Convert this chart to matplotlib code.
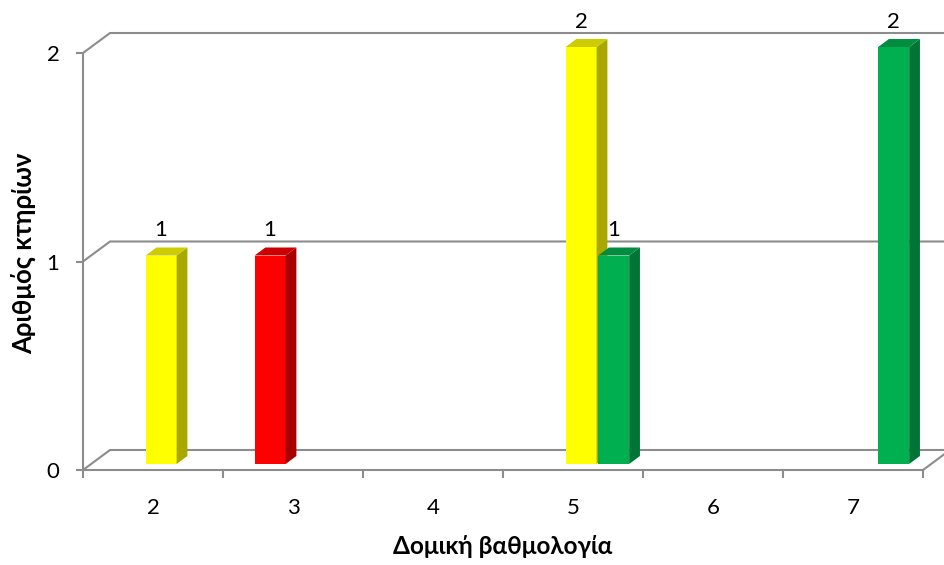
import matplotlib
matplotlib.use("Agg")
import matplotlib.pyplot as plt
from matplotlib.patches import Polygon
import numpy as np

plt.rcParams['font.family'] = ['Lato', 'DejaVu Sans']

# Data
categories = ["2", "3", "4", "5", "6", "7"]
series_names = ["Κόκκινο", "Κίτρινο", "Πράσινο"]
red_values = [0, 1, 0, 0, 0, 0]
yellow_values = [1, 0, 0, 2, 0, 0]
green_values = [0, 0, 0, 1, 0, 2]
y_ticks = [0, 1, 2]
x_title = "Δομική βαθμολογία"
y_title = "Αριθμός κτηρίων"

series = [
    (red_values, "#FF0000"),
    (yellow_values, "#FFFF00"),
    (green_values, "#00B050"),
]

W, H = 945, 565
fig = plt.figure(figsize=(W / 100, H / 100), dpi=100)

# front plane of the plot area (pixels)
left_px, right_px, bot_px, top_px = 83, 923, 470, 53
ax = fig.add_axes([left_px / W, (H - bot_px) / H,
                   (right_px - left_px) / W, (bot_px - top_px) / H])
n = len(categories)
ax.set_xlim(-0.5, n - 0.5)
ax.set_ylim(0, 2)

px_x = (right_px - left_px) / n      # pixels per category
px_y = (bot_px - top_px) / 2.0       # pixels per unit
DX = 27 / px_x                        # full depth offset, data units
DY = 20 / px_y

GRAY = "#8C8C8C"
LW = 1.5
FS = 16

# back wall gridlines with side-wall diagonals
for v in y_ticks:
    ax.plot([-0.5, -0.5 + DX, n + 1.0], [v, v + DY, v + DY],
            color=GRAY, lw=LW, clip_on=False, zorder=1,
            solid_capstyle="butt")
# right edge of the floor
ax.plot([n - 0.5, n - 0.5 + DX], [0, DY], color=GRAY, lw=LW,
        clip_on=False, zorder=1)

# spines / ticks
for s in ["top", "right"]:
    ax.spines[s].set_visible(False)
for s in ["left", "bottom"]:
    ax.spines[s].set_color(GRAY)
    ax.spines[s].set_linewidth(LW)
    ax.spines[s].set_zorder(2)

ax.set_yticks(y_ticks)
ax.set_yticklabels([str(t) for t in y_ticks])
ax.tick_params(axis="y", direction="out", length=5, width=LW, color=GRAY,
               pad=12, labelsize=FS)

ax.set_xticks(np.arange(-0.5, n, 1.0))
ax.set_xticklabels([])
ax.tick_params(axis="x", which="major", direction="out", length=6,
               width=LW, color=GRAY)
ax.set_xticks(np.arange(n), minor=True)
ax.set_xticklabels(categories, minor=True)
ax.tick_params(axis="x", which="minor", length=0, pad=20, labelsize=FS)

ax.set_xlabel(x_title, fontsize=17.5, fontweight="bold", va="center")
ax.xaxis.set_label_coords(0.5, (bot_px - 547) / (bot_px - top_px))
ax.set_ylabel(y_title, fontsize=18.5, fontweight="bold", va="center")
ax.yaxis.set_label_coords((23 - left_px) / (right_px - left_px),
                          (bot_px - 253) / (bot_px - top_px))

# 3D-looking columns
f0, f1 = 0.3, 0.7
ddx, ddy = (f1 - f0) * DX, (f1 - f0) * DY
bar_w = 31 / px_x
offsets = [-1, 0, 1.05]


def shade(hex_color, k):
    r, g, b = matplotlib.colors.to_rgb(hex_color)
    return (r * k, g * k, b * k)


base = f0 * DY
for (values, color), off in zip(series, offsets):
    for i, v in enumerate(values):
        if v == 0:
            continue
        xc = i + off * bar_w + f0 * DX
        ax.bar(xc, v, width=bar_w, bottom=base, color=color,
               linewidth=0, zorder=3, clip_on=False)
        xl, xr = xc - bar_w / 2, xc + bar_w / 2
        top = base + v
        side = Polygon([(xr, base), (xr + ddx, base + ddy),
                        (xr + ddx, top + ddy), (xr, top)],
                       closed=True, facecolor=shade(color, 0.66),
                       edgecolor="none", zorder=3, clip_on=False)
        lid = Polygon([(xl, top), (xr, top), (xr + ddx, top + ddy),
                       (xl + ddx, top + ddy)],
                      closed=True, facecolor=shade(color, 0.80),
                      edgecolor="none", zorder=3, clip_on=False)
        ax.add_patch(side)
        ax.add_patch(lid)
        ax.text(xc, top + 19 / px_y, str(v), ha="center", va="baseline",
                fontsize=FS, zorder=5, clip_on=False)

fig.savefig("out.png", dpi=100)
